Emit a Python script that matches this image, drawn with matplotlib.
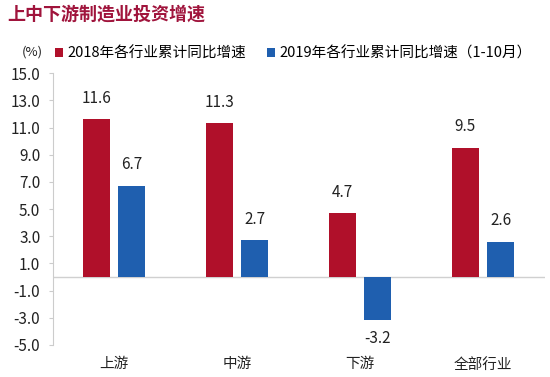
import matplotlib
matplotlib.use("Agg")
import matplotlib.pyplot as plt
import numpy as np

plt.rcParams['font.family'] = ['Noto Sans CJK SC', 'DejaVu Sans']

categories = ['上游', '中游', '下游', '全部行业']
values_2018 = [11.6, 11.3, 4.7, 9.5]
values_2019 = [6.7, 2.7, -3.2, 2.6]
series_names = ['2018年各行业累计同比增速', '2019年各行业累计同比增速（1-10月）']
yticks = [15, 13, 11, 9, 7, 5, 3, 1, -1, -3, -5]

red = '#B0102A'
blue = '#1F5FAF'

fig = plt.figure(figsize=(5.5, 3.77), dpi=100)
ax = fig.add_axes([0.096, 0.085, 0.894, 0.721])

x = np.arange(len(categories))
w = 0.22
off = 0.143
b1 = ax.bar(x - off, values_2018, w, color=red, label=series_names[0], zorder=3)
b2 = ax.bar(x + off, values_2019, w, color=blue, label=series_names[1], zorder=3)

for bars, vals in ((b1, values_2018), (b2, values_2019)):
    for rect, v in zip(bars, vals):
        cx = rect.get_x() + rect.get_width() / 2
        if v >= 0:
            ax.annotate(f'{v:.1f}', (cx, v), xytext=(0, 9), textcoords='offset points',
                        ha='center', va='bottom', fontsize=11, color='#222222')
        else:
            ax.annotate(f'{v:.1f}', (cx, v), xytext=(0, -7), textcoords='offset points',
                        ha='center', va='top', fontsize=11, color='#222222')

ax.set_xlim(-0.5, 3.5)
ax.set_ylim(-5, 15)
ax.set_yticks(yticks)
ax.set_yticklabels([f'{t:.1f}' for t in yticks], fontsize=11, color='#222222')
ax.axhline(0, color='#D0D0D0', lw=1, zorder=2)

ax.set_xticks(x)
ax.set_xticklabels(categories, fontsize=10.5, color='#222222')
ax.tick_params(axis='x', length=0, pad=9)
ax.tick_params(axis='y', length=3, color='#CCCCCC', pad=6)

for s in ('top', 'right', 'bottom'):
    ax.spines[s].set_visible(False)
ax.spines['left'].set_color('#CCCCCC')

fig.text(0.013, 0.963, '上中下游制造业投资增速', fontsize=13, fontweight='bold',
         color='#A0143C', va='center', ha='left')
fig.text(0.04, 0.862, '(%)', fontsize=9.5, color='#222222', va='center', ha='left')

fig.legend(handles=[b1, b2], loc='center left', bbox_to_anchor=(0.1, 0.858), ncol=2,
           frameon=False, fontsize=10.5, handlelength=0.55, handleheight=0.55,
           handletextpad=0.3, columnspacing=1.4, borderaxespad=0, borderpad=0)

fig.savefig('out.png', dpi=100)
